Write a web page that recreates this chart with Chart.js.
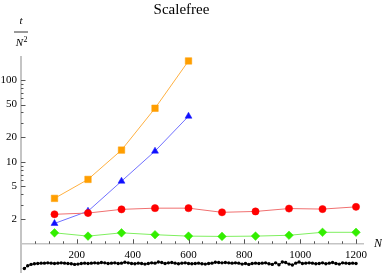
<!DOCTYPE html>
<html><head><meta charset="utf-8">
<script src="https://cdn.jsdelivr.net/npm/chart.js@4"></script>
<style>html,body{margin:0;padding:0;background:#fff;overflow:hidden}</style>
</head><body>
<canvas id="c" width="382" height="273" style="width:382px;height:273px;display:block"></canvas>
<script>
const seriesN = [120,240,360,480,600,720,840,960,1080,1200];
const orangeVals = [3.58,6.1,13.9,45,170];
const blueVals = [1.77,2.5,5.8,13.5,36];
const redVals = [2.29,2.37,2.63,2.72,2.72,2.42,2.48,2.69,2.65,2.82];
const greenVals = [1.36,1.24,1.36,1.29,1.24,1.23,1.24,1.27,1.38,1.38];
const blackN = [12,24,36,48,60,72,84,96,108,120,132,144,156,168,180,192,204,216,228,240,
252,264,276,288,300,312,324,336,348,360,372,384,396,408,420,432,444,456,468,480,
492,504,516,528,540,552,564,576,588,600,612,624,636,648,660,672,684,696,708,720,
732,744,756,768,780,792,804,816,828,840,852,864,876,888,900,912,924,936,948,960,
972,984,996,1008,1020,1032,1044,1056,1068,1080,1092,1104,1116,1128,1140,1152,1164,1176,1188,1200];
const blackVals = [0.50,0.54,0.56,0.57,0.575,0.58,0.58,0.585,0.58,0.575,
0.58,0.585,0.58,0.575,0.57,0.56,0.565,0.575,0.58,0.575,
0.58,0.585,0.58,0.59,0.585,0.575,0.58,0.585,0.575,0.58,
0.595,0.585,0.575,0.57,0.58,0.575,0.565,0.575,0.585,0.58,
0.6,0.59,0.575,0.585,0.59,0.58,0.57,0.58,0.585,0.575,
0.57,0.575,0.58,0.57,0.565,0.575,0.58,0.595,0.59,0.585,
0.59,0.585,0.58,0.585,0.58,0.565,0.575,0.56,0.575,0.58,
0.575,0.58,0.585,0.57,0.56,0.585,0.555,0.6,0.59,0.565,
0.55,0.58,0.6,0.575,0.58,0.585,0.58,0.57,0.575,0.585,
0.57,0.58,0.59,0.575,0.565,0.585,0.58,0.575,0.58,0.575];
const yTickLabels = [2,5,10,20,50,100];
const yMinorTicks = [3,4,6,7,8,9,30,40,60,70,80,90];
const xTickLabels = [200,400,600,800,1000,1200];
const xMinorTicks = [50,100,150,250,300,350,450,500,550,650,700,750,850,900,950,1050,1100,1150];

const pts = (xs, ys) => ys.map((v, i) => ({x: xs[i], y: v}));
const serif = "'Liberation Serif', 'Times New Roman', Times, serif";

const decor = {
  id: 'decor',
  afterDraw(chart) {
    const ctx = chart.ctx, xs = chart.scales.x, ys = chart.scales.y;
    const x0 = xs.getPixelForValue(0), y1 = ys.getPixelForValue(1);
    ctx.save();
    ctx.strokeStyle = '#555';
    ctx.lineWidth = 1;
    ctx.beginPath();
    yTickLabels.forEach(v => { const p = Math.round(ys.getPixelForValue(v)) + 0.5; ctx.moveTo(x0, p); ctx.lineTo(x0 + 4.5, p); });
    yMinorTicks.forEach(v => { const p = Math.round(ys.getPixelForValue(v)) + 0.5; ctx.moveTo(x0, p); ctx.lineTo(x0 + 2.5, p); });
    xTickLabels.forEach(v => { const p = Math.round(xs.getPixelForValue(v)) + 0.5; ctx.moveTo(p, y1); ctx.lineTo(p, y1 - 4.5); });
    xMinorTicks.forEach(v => { const p = Math.round(xs.getPixelForValue(v)) + 0.5; ctx.moveTo(p, y1); ctx.lineTo(p, y1 - 2.5); });
    ctx.stroke();
    ctx.fillStyle = '#000';
    ctx.textAlign = 'center';
    ctx.textBaseline = 'middle';
    ctx.font = 'italic 11px ' + serif;
    ctx.fillText('t', x0, 21);
    ctx.fillText('N', x0 - 1.5, 43);
    ctx.font = '8px ' + serif;
    ctx.fillText('2', x0 + 4.5, 40);
    ctx.strokeStyle = '#000';
    ctx.lineWidth = 0.8;
    ctx.beginPath(); ctx.moveTo(x0 - 7, 32); ctx.lineTo(x0 + 7, 32); ctx.stroke();
    ctx.font = 'italic 12px ' + serif;
    ctx.fillText('N', xs.right + 15, y1);
    ctx.restore();
  }
};

new Chart(document.getElementById('c'), {
  type: 'scatter',
  data: {
    datasets: [
      {data: pts(blackN, blackVals), showLine: true, borderColor: '#000', borderWidth: 1,
       pointStyle: 'circle', pointRadius: 1.7, pointBackgroundColor: '#000', pointBorderWidth: 0},
      {data: pts(seriesN, greenVals), showLine: true, borderColor: '#7fef5f', borderWidth: 1,
       pointStyle: 'rectRot', pointRadius: 4.3, pointBackgroundColor: '#33ee00', pointBorderColor: '#33ee00', pointBorderWidth: 0.5},
      {data: pts(seriesN, redVals), showLine: true, borderColor: '#f07070', borderWidth: 1,
       pointStyle: 'circle', pointRadius: 3.6, pointBackgroundColor: '#ff0000', pointBorderColor: '#ff0000', pointBorderWidth: 0.5},
      {data: pts(seriesN, blueVals), showLine: true, borderColor: '#7070ff', borderWidth: 1,
       pointStyle: 'triangle', pointRadius: 4, pointBackgroundColor: '#1010ff', pointBorderColor: '#1010ff', pointBorderWidth: 0.5},
      {data: pts(seriesN, orangeVals), showLine: true, borderColor: '#ffb040', borderWidth: 1,
       pointStyle: 'rect', pointRadius: 4.6, pointBackgroundColor: '#ff9e00', pointBorderColor: '#ff9e00', pointBorderWidth: 0.5}
    ]
  },
  options: {
    responsive: false, animation: false, devicePixelRatio: 1,
    layout: {autoPadding: false, padding: {left: 0, right: 19, top: 0, bottom: 0}},
    plugins: {
      legend: {display: false}, tooltip: {enabled: false},
      title: {display: true, text: 'Scalefree', color: '#000',
        font: {family: serif, size: 15, weight: 'normal'}, padding: {top: 1, bottom: 38}}
    },
    scales: {
      x: {type: 'linear', min: 0, max: 1225, bounds: 'data', position: {y: 1},
        grid: {display: false, drawTicks: false},
        border: {display: true, color: '#c4c4c4', width: 1.5},
        afterBuildTicks: s => { s.ticks = xTickLabels.map(v => ({value: v})); },
        afterFit: s => { s.height = 0; s.paddingLeft = 0; s.paddingRight = 0; s.paddingTop = 0; s.paddingBottom = 0; },
        ticks: {color: '#000', font: {family: serif, size: 11}, padding: 5, maxRotation: 0, autoSkip: false,
          callback: v => String(v)}
      },
      y: {type: 'logarithmic', min: 0.44, max: 190, bounds: 'data',
        grid: {display: false, drawTicks: false},
        border: {display: true, color: '#c4c4c4', width: 2},
        afterBuildTicks: s => { s.ticks = yTickLabels.map(v => ({value: v})); },
        afterFit: s => { s.width = 21; s.paddingTop = 0; s.paddingBottom = 0; s.paddingLeft = 0; s.paddingRight = 0; },
        ticks: {color: '#000', font: {family: serif, size: 11}, padding: 4, autoSkip: false,
          callback: v => String(v)}
      }
    }
  },
  plugins: [decor]
});
</script>
</body></html>
